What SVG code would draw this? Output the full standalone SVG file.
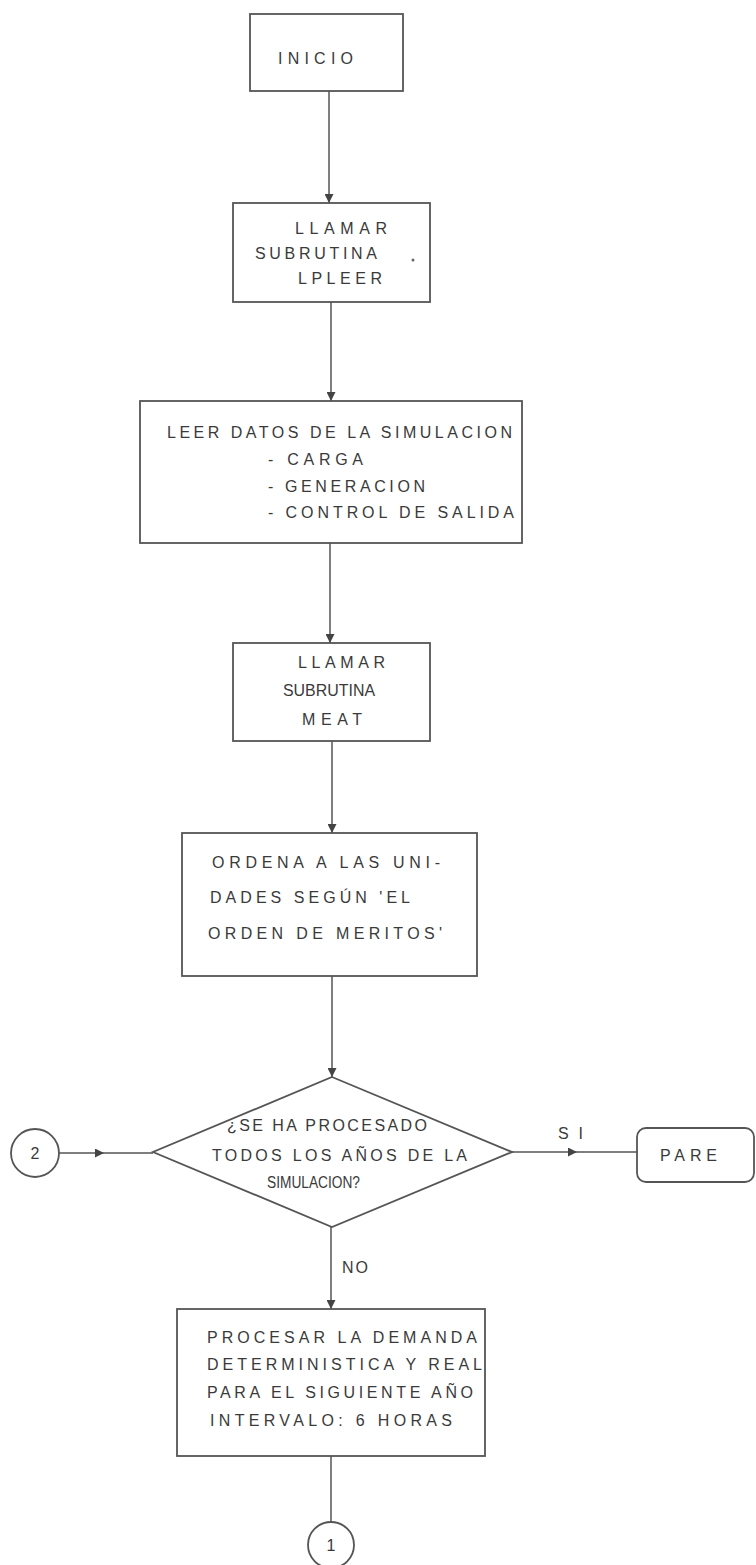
<svg xmlns="http://www.w3.org/2000/svg" width="756" height="1565" viewBox="0 0 756 1565">
<style>
.box{fill:none;stroke:#555;stroke-width:1.8}
.ln{fill:none;stroke:#555;stroke-width:1.5}
.t{font-family:"Liberation Sans","DejaVu Sans",sans-serif;font-size:16px;fill:#3a3a3a}
</style>
<defs>
<marker id="ah" viewBox="0 0 10 10" refX="10" refY="5" markerWidth="9" markerHeight="9" markerUnits="userSpaceOnUse" orient="auto">
<path d="M0,0 L10,5 L0,10 Z" fill="#444"/>
</marker>
</defs>
<rect width="756" height="1565" fill="#fff"/>
<g id="connectors">
<path class="ln" d="M329 91 L329 203" marker-end="url(#ah)"/>
<path class="ln" d="M331 302 L331 401" marker-end="url(#ah)"/>
<path class="ln" d="M330 543 L330 643" marker-end="url(#ah)"/>
<path class="ln" d="M332 741 L332 833" marker-end="url(#ah)"/>
<path class="ln" d="M332 976 L332 1077" marker-end="url(#ah)"/>
<path class="ln" d="M331 1227 L331 1309" marker-end="url(#ah)"/>
<path class="ln" d="M331 1456 L331 1522"/>
<path class="ln" d="M59 1153 L104 1153 L153 1153" marker-mid="url(#ah)"/>
<path class="ln" d="M512 1152 L577 1152 L637 1152" marker-mid="url(#ah)"/>
<text class="t" x="558" y="1139" textLength="25">SI</text>
<text class="t" x="342" y="1273" textLength="26">NO</text>
</g>
<g id="inicio">
<rect class="box" x="250" y="14" width="153" height="77"/>
<text class="t" x="278" y="64" textLength="75">INICIO</text>
</g>
<g id="lpleer">
<rect class="box" x="233" y="203" width="197" height="99"/>
<text class="t" x="295" y="234" textLength="92">LLAMAR</text>
<text class="t" x="255" y="259" textLength="122">SUBRUTINA</text>
<circle cx="413" cy="260" r="1.5" fill="#666"/>
<text class="t" x="298" y="284" textLength="84">LPLEER</text>
</g>
<g id="leer">
<rect class="box" x="140" y="401" width="382" height="142"/>
<text class="t" x="167" y="438" textLength="345">LEER DATOS DE LA SIMULACION</text>
<text class="t" x="268" y="465" textLength="95">- CARGA</text>
<text class="t" x="268" y="492" textLength="157">- GENERACION</text>
<text class="t" x="268" y="518" textLength="246">- CONTROL DE SALIDA</text>
</g>
<g id="meat">
<rect class="box" x="233" y="643" width="197" height="98"/>
<text class="t" x="298" y="668" textLength="87">LLAMAR</text>
<text class="t" x="283" y="696" textLength="92" lengthAdjust="spacingAndGlyphs">SUBRUTINA</text>
<text class="t" x="302" y="725" textLength="60">MEAT</text>
</g>
<g id="ordena">
<rect class="box" x="182" y="833" width="295" height="143"/>
<text class="t" x="212" y="868" textLength="228">ORDENA A LAS UNI-</text>
<text class="t" x="210" y="903" textLength="200">DADES SEGÚN 'EL</text>
<text class="t" x="208" y="939" textLength="234">ORDEN DE MERITOS'</text>
</g>
<g id="decision">
<polygon class="box" points="332,1077 512,1152 332,1227 153,1152"/>
<text class="t" x="227" y="1131" textLength="200">¿SE HA PROCESADO</text>
<text class="t" x="212" y="1161" textLength="255">TODOS LOS AÑOS DE LA</text>
<text class="t" x="267" y="1188" textLength="93" lengthAdjust="spacingAndGlyphs">SIMULACION?</text>
</g>
<g id="pare">
<rect class="box" x="637" y="1128" width="117" height="54" rx="9"/>
<text class="t" x="660" y="1161" textLength="57">PARE</text>
</g>
<g id="procesar">
<rect class="box" x="177" y="1309" width="308" height="147"/>
<text class="t" x="207" y="1343" textLength="270">PROCESAR LA DEMANDA</text>
<text class="t" x="207" y="1370" textLength="275">DETERMINISTICA Y REAL</text>
<text class="t" x="207" y="1398" textLength="266">PARA EL SIGUIENTE AÑO</text>
<text class="t" x="210" y="1426" textLength="242">INTERVALO:  6 HORAS</text>
</g>
<g id="conn2">
<circle class="box" cx="35" cy="1153" r="24"/>
<text class="t" x="35" y="1159" text-anchor="middle">2</text>
</g>
<g id="conn1">
<circle class="box" cx="331" cy="1545" r="23"/>
<text class="t" x="331" y="1551" text-anchor="middle">1</text>
</g>
</svg>
